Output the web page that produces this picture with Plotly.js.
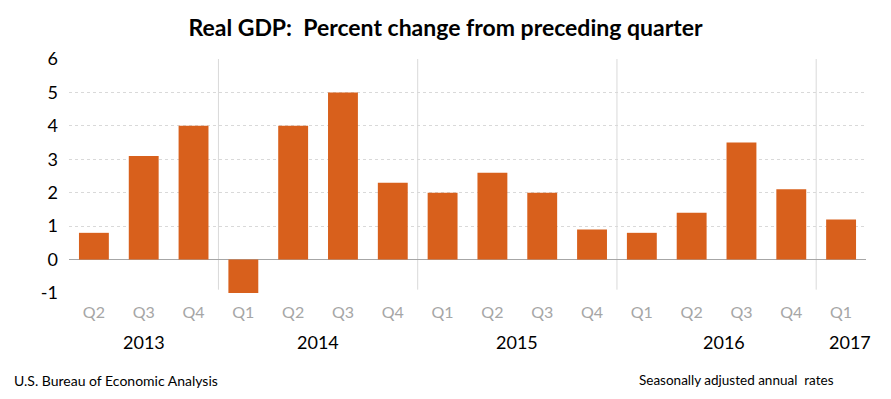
<!DOCTYPE html>
<html><head><meta charset="utf-8">
<script src="https://cdn.plot.ly/plotly-3.0.1.min.js"></script>
<style>html,body{margin:0;padding:0;background:#fff;}#chart{width:891px;height:399px;}</style>
</head><body><div id="chart"></div>
<script>
const quarters = ["Q2","Q3","Q4","Q1","Q2","Q3","Q4","Q1","Q2","Q3","Q4","Q1","Q2","Q3","Q4","Q1"];
const values = [0.8,3.1,4.0,-1.0,4.0,5.0,2.3,2.0,2.6,2.0,0.9,0.8,1.4,3.5,2.1,1.2];
const years = ["2013","2014","2015","2016","2017"];
const yearPos = [1,4.5,8.5,12.65,15.18];
const yearBreaks = [2.5,6.5,10.5,14.5];
const yTicks = [-1,0,1,2,3,4,5,6];
const yTickText = ["-1","0","1","2","3","4","5","6"];

const idx = quarters.map((_, i) => i);
const trace = {type:'bar', x: idx, y: values, marker:{color:'#D8601C'}, width:0.6, hoverinfo:'none'};

const shapes = yearBreaks.map(b => ({type:'line', xref:'x', yref:'y', x0:b, x1:b, y0:-0.9, y1:6.1, line:{color:'#d9d9d9', width:1}, layer:'below'}));
const annotations = years.map((y,i) => ({text:y, xref:'x', yref:'paper', x:yearPos[i], y:-0.21, showarrow:false, xanchor:'center', yanchor:'middle', font:{size:18, color:'#000', family:'Lato, "Open Sans", sans-serif'}}));
annotations.push({text:'U.S. Bureau of Economic Analysis', xref:'paper', yref:'paper', x:-0.071, y:-0.372, xanchor:'left', yanchor:'middle', showarrow:false, font:{size:14, color:'#000', family:'"Liberation Sans Narrow", Lato, sans-serif'}});
annotations.push({text:'Seasonally adjusted annual  rates', xref:'paper', yref:'paper', x:0.962, y:-0.372, xanchor:'right', yanchor:'middle', showarrow:false, font:{size:13.5, color:'#000', family:'"Liberation Sans Narrow", Lato, sans-serif'}});

const layout = {
  width:891, height:399,
  margin:{l:69, r:25, t:59, b:106},
  paper_bgcolor:'#fff', plot_bgcolor:'#fff',
  title:{text:'<b>Real GDP:  Percent change from preceding quarter</b>', x:0.5, xanchor:'center', y:0.93, yanchor:'middle', font:{size:23, color:'#000', family:'Lato, "Open Sans", sans-serif'}},
  showlegend:false,
  xaxis:{range:[-0.5,15.5], tickvals:idx, ticktext:quarters, showgrid:false, zeroline:false, showline:false, ticks:'', ticklabelstandoff:8, tickfont:{size:16, color:'#a6a6a6', family:'Lato, "Open Sans", sans-serif'}, fixedrange:true},
  yaxis:{range:[-1,6], tickvals:yTicks, ticktext:yTickText, showgrid:true, gridcolor:'#d9d9d9', griddash:'dot', gridwidth:1, zeroline:true, zerolinecolor:'#a6a6a6', zerolinewidth:1.5, showline:false, ticks:'', ticklabelstandoff:10, tickfont:{size:18, color:'#000', family:'Lato, "Open Sans", sans-serif'}, fixedrange:true},
  shapes: shapes,
  annotations: annotations
};
Plotly.newPlot('chart', [trace], layout, {displayModeBar:false, staticPlot:true});
</script></body></html>
